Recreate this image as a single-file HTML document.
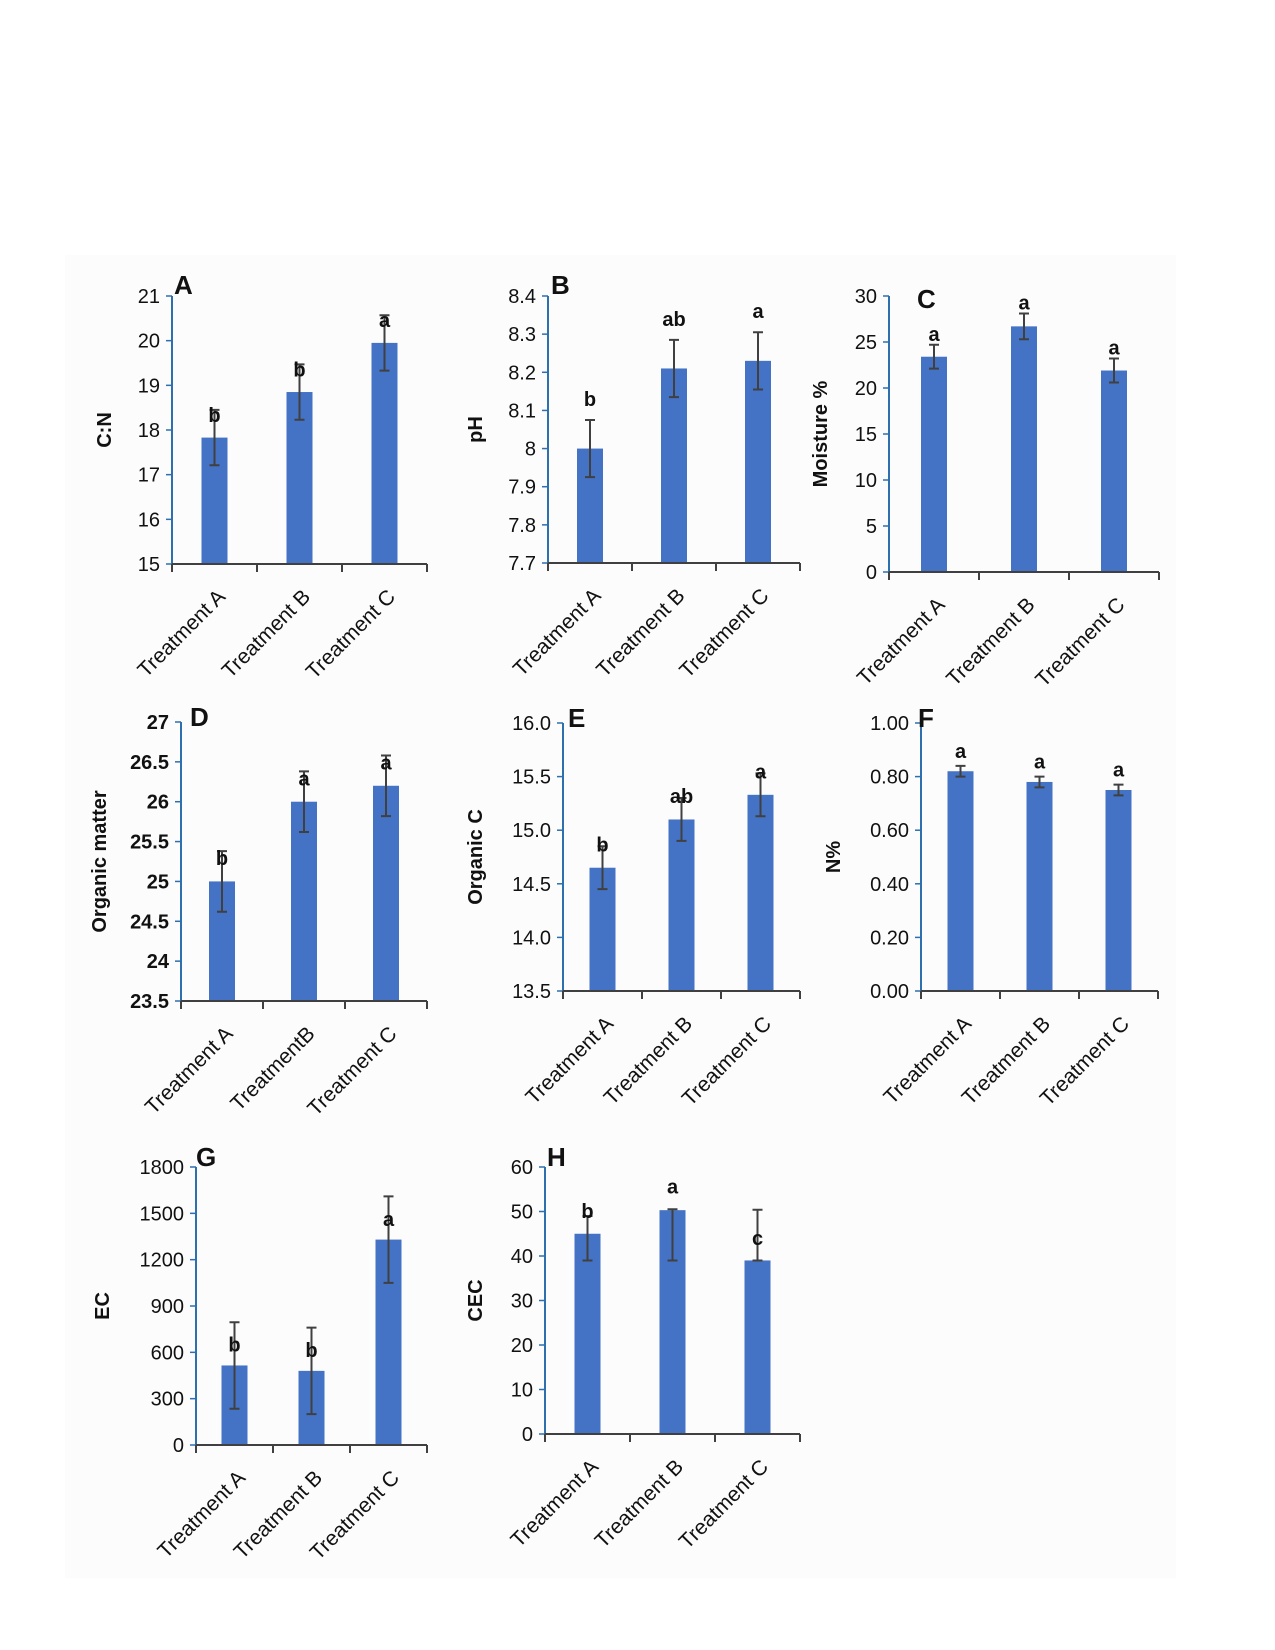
<!DOCTYPE html>
<html><head><meta charset="utf-8"><style>
html,body{margin:0;padding:0;background:#fff}
svg{display:block}
text{font-family:"Liberation Sans",sans-serif;fill:#111}
</style></head><body>
<svg id="fig" width="1275" height="1650">
<rect x="65" y="255" width="1111" height="1323" fill="#fcfcfc"/>
</svg>
<script>
const cats = ["Treatment A","Treatment B","Treatment C"];
const catsD = ["Treatment A","TreatmentB","Treatment C"];
const valsA=[17.83,18.85,19.95], errA=[0.62,0.62,0.62], letA=["b","b","a"], ticksA=[15,16,17,18,19,20,21];
const valsB=[8.0,8.21,8.23], errB=[0.075,0.075,0.075], letB=["b","ab","a"], ticksB=[7.7,7.8,7.9,8,8.1,8.2,8.3,8.4];
const valsC=[23.4,26.7,21.9], errC=[1.3,1.4,1.3], letC=["a","a","a"], ticksC=[0,5,10,15,20,25,30];
const valsD=[25.0,26.0,26.2], errD=[0.38,0.38,0.38], letD=["b","a","a"], ticksD=[23.5,24,24.5,25,25.5,26,26.5,27];
const valsE=[14.65,15.1,15.33], errE=[0.2,0.2,0.2], letE=["b","ab","a"], ticksE=[13.5,14.0,14.5,15.0,15.5,16.0];
const valsF=[0.82,0.78,0.75], errF=[0.02,0.02,0.02], letF=["a","a","a"], ticksF=[0,0.2,0.4,0.6,0.8,1.0];
const valsG=[515,480,1330], errG=[280,280,280], letG=["b","b","a"], letPosG=[604,570,1419], ticksG=[0,300,600,900,1200,1500,1800];
const valsH=[45,50.3,39], errLoH=[6,11.3,0], errHiH=[4,0.2,11.4], letH=["b","a","c"], letPosH=[48.5,54,42.5], ticksH=[0,10,20,30,40,50,60];

const NS="http://www.w3.org/2000/svg", svg=document.getElementById('fig');
function mk(tag,attrs,parent,txt){const e=document.createElementNS(NS,tag);for(const k in attrs)e.setAttribute(k,attrs[k]);if(txt!==undefined)e.textContent=txt;(parent||svg).appendChild(e);return e;}

function panel(o){
  const g=mk('g',{});
  
  
  const t0=o.ticks[0], t1=o.ticks[o.ticks.length-1];
  const y=v=>o.bottom-(v-t0)/(t1-t0)*(o.bottom-o.top);
  const step=(o.right-o.x)/3;
  const cx=i=>o.x+step*(i+0.5);
  o.ticks.forEach(t=>{
    const tk=mk('line',{x1:o.x-6,x2:o.x,y1:y(t),y2:y(t),stroke:'#2e6fae','stroke-width':1.5},g);
    
    
    const lb=mk('text',{x:o.x-12,y:y(t)+7,'text-anchor':'end','font-size':20,'font-weight':o.boldTicks?'bold':'normal'},g,o.fmt(t));
    
    
  });
  o.vals.forEach((v,i)=>{
    const b=mk('rect',{x:cx(i)-13,y:y(v),width:26,height:o.bottom-y(v),fill:'#4472c4'},g);
    
    
    const lo=v-o.errLo[i], hi=v+o.errHi[i];
    const eb=mk('path',{d:`M${cx(i)},${y(lo)}V${y(hi)}M${cx(i)-5},${y(lo)}h10M${cx(i)-5},${y(hi)}h10`,stroke:'#404040','stroke-width':2,fill:'none'},g);
    
    
    const ly=o.letPos?y(o.letPos[i]):y(hi)+o.letOff;
    const lt=mk('text',{x:cx(i),y:ly,'text-anchor':'middle','font-size':20,'font-weight':'bold'},g,o.letters[i]);
    
    
    const xl=mk('text',{x:0,y:0,'text-anchor':'end','font-size':21,transform:`translate(${cx(i)+12},${o.bottom+34}) rotate(-45)`},g,o.cats[i]);
    
    
  });
  const ya=mk('line',{x1:o.x,x2:o.x,y1:o.top,y2:o.bottom,stroke:'#2e6fae','stroke-width':2},g);
  
  
  const xa=mk('line',{x1:o.x,x2:o.right,y1:o.bottom,y2:o.bottom,stroke:'#404040','stroke-width':2},g);
  
  
  for(let k=0;k<=3;k++){
    const xt=mk('line',{x1:o.x+step*k,x2:o.x+step*k,y1:o.bottom,y2:o.bottom+8,stroke:'#404040','stroke-width':2},g);
    
    
  }
  const pl=mk('text',{x:o.x+o.letDx,y:o.top+o.letDy,'font-size':26,'font-weight':'bold'},g,o.id);
  
  
  const yt=mk('text',{x:0,y:0,'text-anchor':'middle','font-size':20,'font-weight':'bold',transform:`translate(${o.ytx},${(o.top+o.bottom)/2}) rotate(-90)`},g,o.ytitle);
  
  
}
const f0=t=>String(+t.toFixed(1)), f1=t=>t.toFixed(1), f2=t=>t.toFixed(2);
panel({id:'A',x:172,top:296,bottom:564,right:427,ticks:ticksA,fmt:f0,vals:valsA,errLo:errA,errHi:errA,letters:letA,letOff:12,cats:cats,ytitle:'C:N',ytx:111,letDx:2,letDy:-2});
panel({id:'B',x:548,top:296,bottom:563,right:800,ticks:ticksB,fmt:f0,vals:valsB,errLo:errB,errHi:errB,letters:letB,letOff:-14,cats:cats,ytitle:'pH',ytx:482,letDx:3,letDy:-2});
panel({id:'C',x:889,top:296,bottom:572,right:1159,ticks:ticksC,fmt:f0,vals:valsC,errLo:errC,errHi:errC,letters:letC,letOff:-4,cats:cats,ytitle:'Moisture %',ytx:827,letDx:28,letDy:12});
panel({id:'D',x:181,top:722,bottom:1001,right:427,ticks:ticksD,fmt:f0,boldTicks:true,vals:valsD,errLo:errD,errHi:errD,letters:letD,letOff:14,cats:catsD,ytitle:'Organic matter',ytx:106,letDx:9,letDy:4});
panel({id:'E',x:563,top:723,bottom:991,right:800,ticks:ticksE,fmt:f1,vals:valsE,errLo:errE,errHi:errE,letters:letE,letOff:5,cats:cats,ytitle:'Organic C',ytx:482,letDx:5,letDy:4});
panel({id:'F',x:921,top:723,bottom:991,right:1158,ticks:ticksF,fmt:f2,vals:valsF,errLo:errF,errHi:errF,letters:letF,letOff:-8,cats:cats,ytitle:'N%',ytx:840,letDx:-3,letDy:4});
panel({id:'G',x:196,top:1167,bottom:1445,right:427,ticks:ticksG,fmt:f0,vals:valsG,errLo:errG,errHi:errG,letters:letG,letPos:letPosG,cats:cats,ytitle:'EC',ytx:109,letDx:0,letDy:-1});
panel({id:'H',x:545,top:1167,bottom:1434,right:800,ticks:ticksH,fmt:f0,vals:valsH,errLo:errLoH,errHi:errHiH,letters:letH,letPos:letPosH,cats:cats,ytitle:'CEC',ytx:482,letDx:2,letDy:-1});
</script>
</body></html>
